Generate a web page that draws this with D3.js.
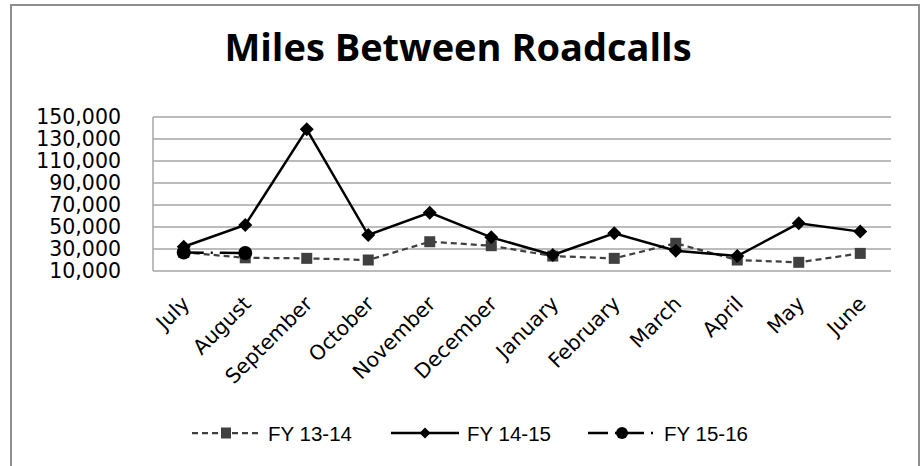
<!DOCTYPE html>
<html>
<head>
<meta charset="utf-8">
<script src="https://cdn.jsdelivr.net/npm/d3@7"></script>
<style>
  body { margin: 0; background: #fff; }
  svg { display: block; }
</style>
</head>
<body>
<svg id="chart"></svg>
<script>
// chart data
const months = [ "July", "August", "September", "October", "November", "December",
                 "January", "February", "March", "April", "May", "June" ];
const fy1314 = [ 27000, 22000, 21500, 20000, 36600, 33000, 23600, 21500, 35200, 20000, 17900, 26000 ];
const fy1415 = [ 32000, 51800, 138800, 42700, 63000, 40600, 24500, 44300, 28500, 23600, 53300, 45800 ];
const fy1516 = [ 26800, 26400 ];
const seriesNames = [ "FY 13-14", "FY 14-15", "FY 15-16" ];
const yTicks = [ 10000, 30000, 50000, 70000, 90000, 110000, 130000, 150000 ];

var svgWidth = 921,
    svgHeight = 466,
    plot = { left: 153, right: 891, top: 117, bottom: 271 };

var dashes = [ "6,4", null, "20,7,2,7" ];

var svg = d3.select( "svg#chart" )
    .attr( "width", svgWidth )
    .attr( "height", svgHeight );

// outer chart frame
svg.append( "rect" )
    .attr( "x", 11 ).attr( "y", 5 )
    .attr( "width", 908 ).attr( "height", 470 )
    .style( "fill", "#fff" )
    .style( "stroke", "#8e8e8e" )
    .style( "stroke-width", 2 );

svg.append( "text" )
    .attr( "x", 458 ).attr( "y", 61 )
    .attr( "text-anchor", "middle" )
    .style( "font-family", "'Open Sans', sans-serif" )
    .style( "font-weight", "bold" )
    .style( "font-size", "38px" )
    .text( "Miles Between Roadcalls" );

var x = d3.scaleBand().domain( months ).range( [ plot.left, plot.right ] );
var y = d3.scaleLinear().domain( [ 10000, 150000 ] ).range( [ plot.bottom, plot.top ] );
var cx = function ( i ) { return x( months[ i ] ) + x.bandwidth() / 2; };

// gridlines
svg.append( "g" )
    .selectAll( "line" )
    .data( yTicks )
    .enter()
    .append( "line" )
    .attr( "x1", plot.left ).attr( "x2", plot.right )
    .attr( "y1", d => y( d ) ).attr( "y2", d => y( d ) )
    .style( "stroke", "#a6a6a6" )
    .style( "stroke-width", 1.5 );

svg.append( "line" )
    .attr( "x1", plot.left ).attr( "x2", plot.left )
    .attr( "y1", plot.top ).attr( "y2", plot.bottom )
    .style( "stroke", "#a6a6a6" )
    .style( "stroke-width", 1.5 );

// y axis labels
var yAxis = svg.append( "g" )
    .attr( "transform", "translate(" + [ plot.left - 32, 0 ] + ")" )
    .call( d3.axisLeft( y ).tickValues( yTicks ).tickSize( 0 ).tickPadding( 0 ).tickFormat( d3.format( "," ) ) );
yAxis.select( ".domain" ).remove();
yAxis.selectAll( "text" )
    .style( "font-family", "'DejaVu Sans', sans-serif" )
    .style( "font-size", "20.5px" )
    .style( "fill", "#000" );

// x axis labels
var xAxis = svg.append( "g" )
    .attr( "transform", "translate(" + [ 0, plot.bottom ] + ")" )
    .call( d3.axisBottom( x ).tickSize( 0 ).tickPadding( 0 ) );
xAxis.select( ".domain" ).remove();
xAxis.selectAll( "text" )
    .attr( "text-anchor", "end" )
    .attr( "y", 0 ).attr( "dy", 0 )
    .attr( "transform", "translate(7,34) rotate(-45)" )
    .style( "font-family", "'DejaVu Sans', sans-serif" )
    .style( "font-size", "20.5px" )
    .style( "fill", "#000" );

var lineGen = d3.line()
    .x( function ( d, i ) { return cx( i ); } )
    .y( function ( d ) { return y( d ); } );

function diamond( s ) { return "M0," + -s + "L" + s + ",0L0," + s + "L" + -s + ",0Z"; }

// FY 13-14
svg.append( "path" ).datum( fy1314 )
    .attr( "d", lineGen )
    .style( "fill", "none" ).style( "stroke", "#404040" )
    .style( "stroke-width", 2.25 ).style( "stroke-dasharray", dashes[ 0 ] );
svg.append( "g" ).selectAll( "rect" ).data( fy1314 ).enter()
    .append( "rect" )
    .attr( "x", ( d, i ) => cx( i ) - 5.5 ).attr( "y", d => y( d ) - 5.5 )
    .attr( "width", 11 ).attr( "height", 11 )
    .style( "fill", "#404040" );

// FY 14-15
svg.append( "path" ).datum( fy1415 )
    .attr( "d", lineGen )
    .style( "fill", "none" ).style( "stroke", "#000" )
    .style( "stroke-width", 2.5 );
svg.append( "g" ).selectAll( "path" ).data( fy1415 ).enter()
    .append( "path" )
    .attr( "transform", ( d, i ) => "translate(" + [ cx( i ), y( d ) ] + ")" )
    .attr( "d", diamond( 7 ) )
    .style( "fill", "#000" );

// FY 15-16
svg.append( "path" ).datum( fy1516 )
    .attr( "d", lineGen )
    .style( "fill", "none" ).style( "stroke", "#000" )
    .style( "stroke-width", 2.5 ).style( "stroke-dasharray", dashes[ 2 ] );
svg.append( "g" ).selectAll( "circle" ).data( fy1516 ).enter()
    .append( "circle" )
    .attr( "cx", ( d, i ) => cx( i ) ).attr( "cy", d => y( d ) )
    .attr( "r", 7 )
    .style( "fill", "#000" );

// legend
var legendX = [ 192, 391, 588 ],
    legendY = 433,
    symbolWidth = 68;

var legend = svg.append( "g" ).selectAll( "g" )
    .data( seriesNames ).enter()
    .append( "g" )
    .attr( "transform", ( d, i ) => "translate(" + [ legendX[ i ], legendY ] + ")" );

legend.append( "line" )
    .attr( "x1", 0 ).attr( "x2", symbolWidth )
    .style( "stroke", ( d, i ) => i == 0 ? "#404040" : "#000" )
    .style( "stroke-width", ( d, i ) => i == 0 ? 2.25 : 2.5 )
    .style( "stroke-dasharray", ( d, i ) => dashes[ i ] );

legend.each( function ( d, i ) {
    var g = d3.select( this );
    if ( i == 0 ) {
        g.append( "rect" ).attr( "x", 29 ).attr( "y", -5.5 ).attr( "width", 10 ).attr( "height", 11 ).style( "fill", "#404040" );
    } else if ( i == 1 ) {
        g.append( "path" ).attr( "transform", "translate(34,0)" ).attr( "d", diamond( 5.5 ) ).style( "fill", "#000" );
    } else {
        g.append( "circle" ).attr( "cx", 34 ).attr( "r", 6 ).style( "fill", "#000" );
    }
} );

legend.append( "text" )
    .attr( "x", 76 ).attr( "y", 7.5 )
    .style( "font-family", "'Liberation Sans', Arial, sans-serif" )
    .style( "font-size", "20.5px" )
    .text( d => d );
</script>
</body>
</html>
